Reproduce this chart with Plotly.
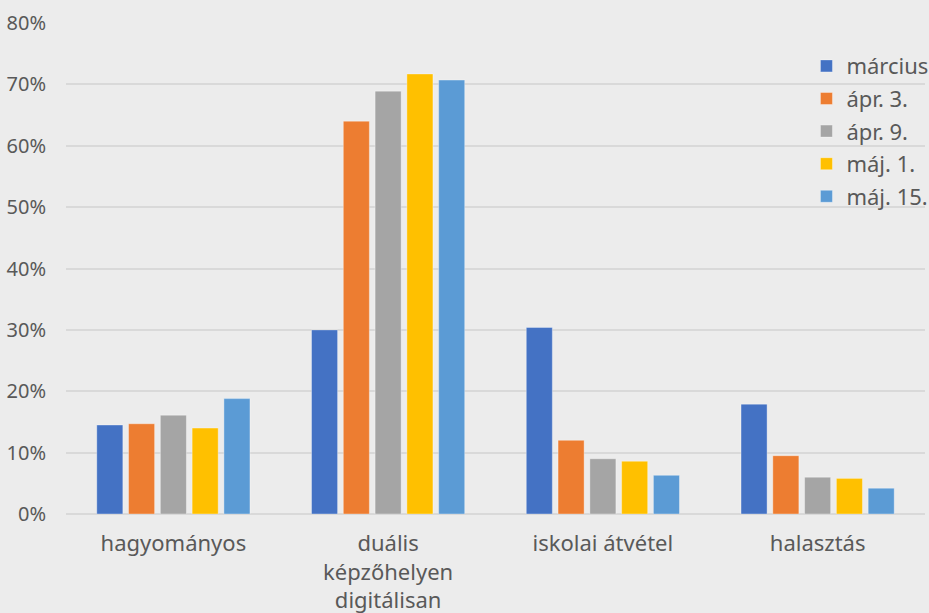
import plotly.graph_objects as go

categories = ["hagyományos", "duális<br>képzőhelyen<br>digitálisan", "iskolai átvétel", "halasztás"]
series_names = ["március", "ápr. 3.", "ápr. 9.", "máj. 1.", "máj. 15."]
marcius = [0.145, 0.300, 0.304, 0.179]
apr3 = [0.147, 0.640, 0.120, 0.095]
apr9 = [0.161, 0.689, 0.090, 0.060]
maj1 = [0.140, 0.717, 0.086, 0.058]
maj15 = [0.188, 0.707, 0.063, 0.042]
series_values = [marcius, apr3, apr9, maj1, maj15]
colors = ["#4472C4", "#ED7D31", "#A5A5A5", "#FFC000", "#5B9BD5"]
y_ticks = [0, 0.1, 0.2, 0.3, 0.4, 0.5, 0.6, 0.7, 0.8]

FONT = "Noto Sans"
fig = go.Figure()
for i, (name, vals) in enumerate(zip(series_names, series_values)):
    fig.add_trace(go.Bar(
        x=categories, y=vals, name=name,
        marker=dict(color=colors[i], line=dict(color="rgba(255,255,255,0.35)", width=1)),
        legendgroup=name,
    ))

fig.update_layout(
    width=929, height=613,
    margin=dict(l=66, r=4, t=23, b=99, autoexpand=False),
    paper_bgcolor="#ECECEC", plot_bgcolor="#ECECEC",
    barmode="group", bargap=0.26, bargroupgap=0.18,
    font=dict(family=FONT, color="#595959"),
    showlegend=True,
    legend=dict(x=0.862, y=0.955, xanchor="left", yanchor="top",
                bgcolor="rgba(0,0,0,0)", font=dict(size=22, color="#595959"),
                tracegroupgap=1),
    xaxis=dict(tickfont=dict(size=22, color="#595959"), showgrid=False,
               showline=False, zeroline=False, ticklabelstandoff=14),
    yaxis=dict(range=[0, 0.8], tickvals=y_ticks, tickformat=".0%",
               tickfont=dict(size=20, color="#595959"),
               gridcolor="#D9D9D9", gridwidth=1.5, zeroline=True,
               zerolinecolor="#D9D9D9", zerolinewidth=1.5,
               ticklabelstandoff=19, showline=False),
)
fig.write_html("out.html", config={"displayModeBar": False},
               post_script="document.body.style.margin='0';document.body.style.background='#ECECEC';")
